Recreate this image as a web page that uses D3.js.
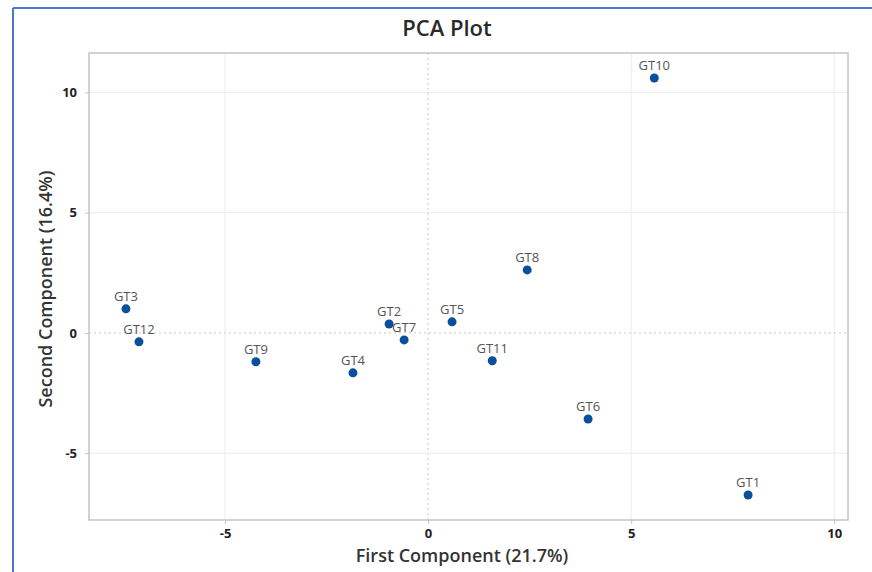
<!DOCTYPE html>
<html>
<head>
<meta charset="utf-8">
<script src="https://cdn.jsdelivr.net/npm/d3@7"></script>
<style>
  html, body { margin: 0; padding: 0; background: #fff; }
  svg { display: block; font-family: "Open Sans", "Noto Sans", sans-serif; }
</style>
</head>
<body>
<svg id="chart" width="872" height="572"></svg>
<script>
// PCA scores
const labels = ["GT1", "GT2", "GT3", "GT4", "GT5", "GT6", "GT7", "GT8", "GT9", "GT10", "GT11", "GT12"];
const pc1 = [7.88, -0.96, -7.44, -1.85, 0.59, 3.94, -0.59, 2.44, -4.24, 5.57, 1.58, -7.12];
const pc2 = [-6.74, 0.37, 1.0, -1.66, 0.46, -3.58, -0.29, 2.62, -1.2, 10.6, -1.16, -0.37];

const xTicks = [-5, 0, 5, 10];
const yTicks = [-5, 0, 5, 10];

const svg = d3.select("#chart");
const width = 872, height = 572;
const margin = {top: 53, right: 24, bottom: 52, left: 89};

// outer blue frame (top and left edges visible)
svg.append("line")
  .attr("x1", 13).attr("x2", width).attr("y1", 8).attr("y2", 8)
  .attr("stroke", "#4a78c8").attr("stroke-width", 2);
svg.append("line")
  .attr("x1", 13).attr("x2", 13).attr("y1", 8).attr("y2", height)
  .attr("stroke", "#4a78c8").attr("stroke-width", 2);

const x = d3.scaleLinear()
  .domain([-8.35, 10.34])
  .range([margin.left, width - margin.right]);

const y = d3.scaleLinear()
  .domain([-7.78, 11.64])
  .range([height - margin.bottom, margin.top]);

// title
svg.append("text")
  .attr("x", 447).attr("y", 36)
  .attr("text-anchor", "middle")
  .attr("font-size", 22)
  .attr("font-weight", 600)
  .attr("fill", "#2a2a2a")
  .text("PCA Plot");

// grid lines
const grid = svg.append("g");
grid.selectAll(".gx")
  .data(xTicks)
  .join("line")
  .attr("x1", d => x(d)).attr("x2", d => x(d))
  .attr("y1", margin.top).attr("y2", height - margin.bottom)
  .attr("stroke", d => d === 0 ? "#c8c8c8" : "#ececec")
  .attr("stroke-dasharray", d => d === 0 ? "2,3" : null);
grid.selectAll(".gy")
  .data(yTicks)
  .join("line")
  .attr("y1", d => y(d)).attr("y2", d => y(d))
  .attr("x1", margin.left).attr("x2", width - margin.right)
  .attr("stroke", d => d === 0 ? "#c8c8c8" : "#ececec")
  .attr("stroke-dasharray", d => d === 0 ? "2,3" : null);

// plot frame
svg.append("rect")
  .attr("x", margin.left).attr("y", margin.top)
  .attr("width", width - margin.left - margin.right)
  .attr("height", height - margin.top - margin.bottom)
  .attr("fill", "none")
  .attr("stroke", "#c4c4c4")
  .attr("stroke-width", 1.5);

// axes
const xAxis = svg.append("g")
  .attr("transform", `translate(0,${height - margin.bottom})`)
  .call(d3.axisBottom(x).tickValues(xTicks).tickSize(4).tickPadding(5)
    .tickFormat(d => String(d)));
const yAxis = svg.append("g")
  .attr("transform", `translate(${margin.left},0)`)
  .call(d3.axisLeft(y).tickValues(yTicks).tickSize(4).tickPadding(8)
    .tickFormat(d => String(d)));

[xAxis, yAxis].forEach(a => {
  a.select(".domain").remove();
  a.selectAll("line").attr("stroke", "#c4c4c4");
  a.selectAll("text")
    .attr("font-size", 13)
    .attr("font-weight", "bold")
    .attr("fill", "#222")
    .style("font-family", "\"Open Sans\", sans-serif");
});

// axis titles
svg.append("text")
  .attr("x", 462).attr("y", 562)
  .attr("text-anchor", "middle")
  .attr("font-size", 18)
  .attr("font-weight", 600)
  .attr("fill", "#333")
  .text("First Component (21.7%)");

svg.append("text")
  .attr("transform", "translate(52,289) rotate(-90)")
  .attr("text-anchor", "middle")
  .attr("font-size", 18)
  .attr("font-weight", 600)
  .attr("fill", "#333")
  .text("Second Component (16.4%)");

// points and labels
const pts = svg.append("g");
pts.selectAll("circle")
  .data(labels)
  .join("circle")
  .attr("cx", (d, i) => x(pc1[i]))
  .attr("cy", (d, i) => y(pc2[i]))
  .attr("r", 4.5)
  .attr("fill", "#0a4f9c");

pts.selectAll("text")
  .data(labels)
  .join("text")
  .attr("x", (d, i) => x(pc1[i]))
  .attr("y", (d, i) => y(pc2[i]) - 8)
  .attr("text-anchor", "middle")
  .attr("font-size", 13)
  .attr("fill", "#555")
  .text(d => d);
</script>
</body>
</html>
